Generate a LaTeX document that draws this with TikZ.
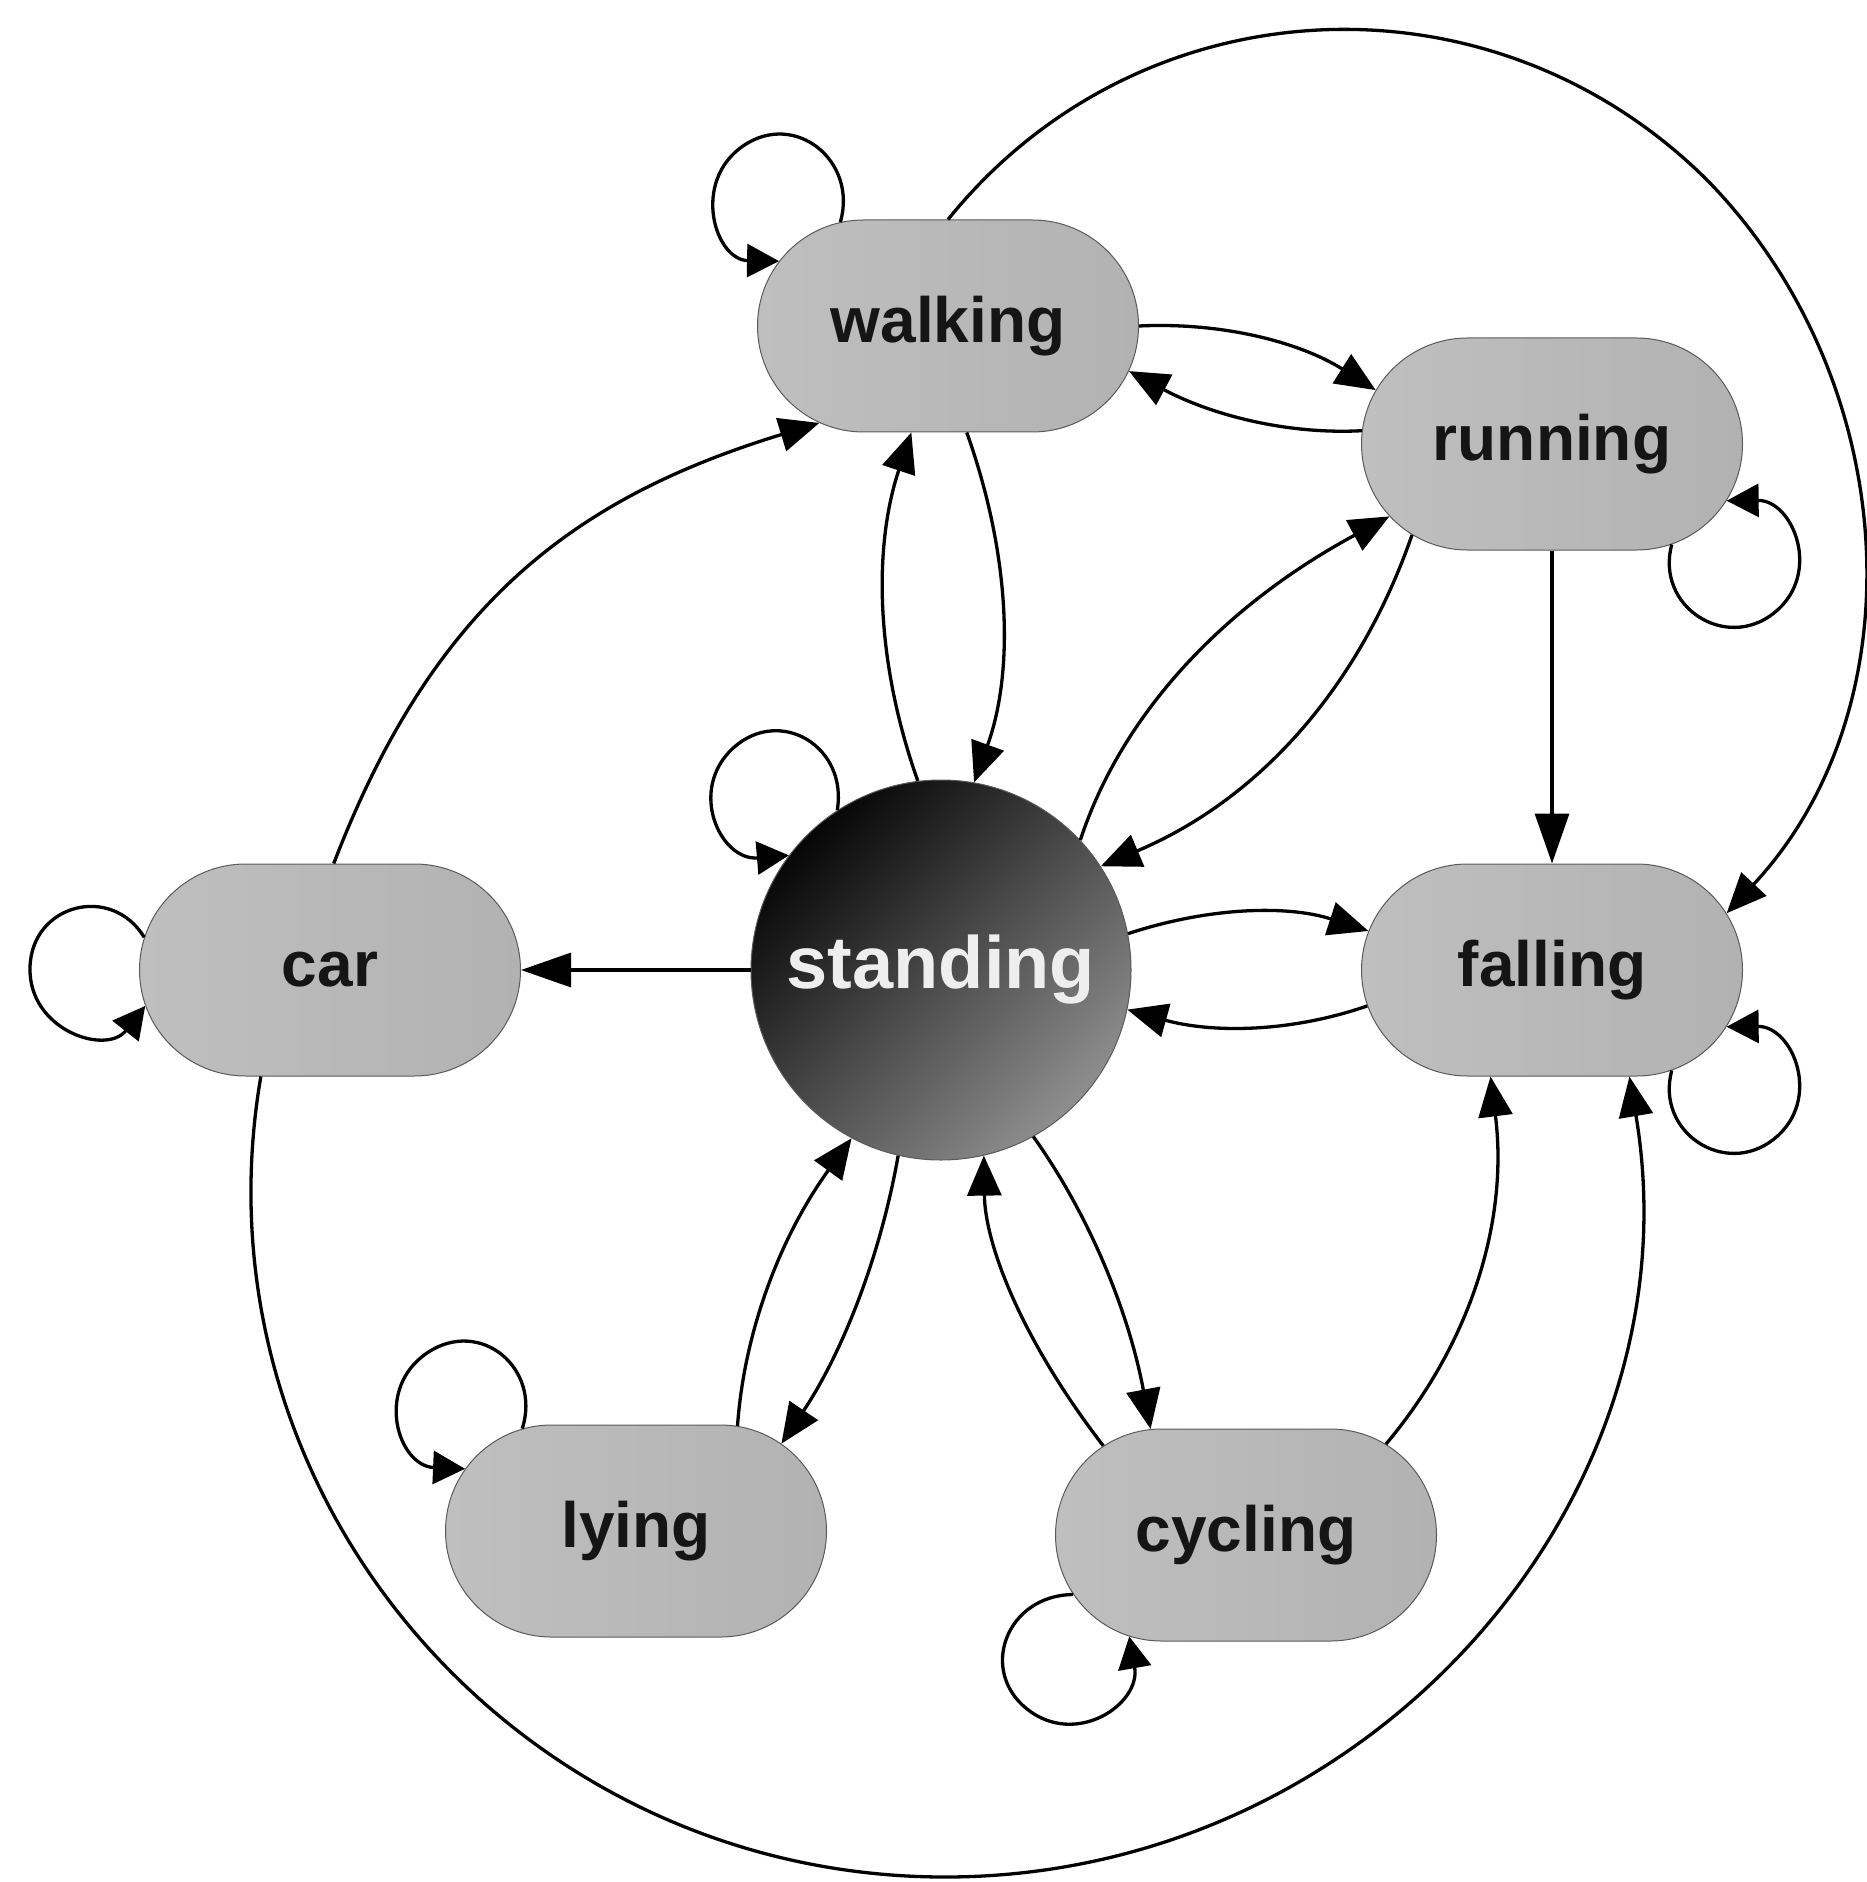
\documentclass[tikz,border=0pt]{standalone}
\usepackage{fontspec}
\setmainfont{Liberation Sans}
\usetikzlibrary{shapes.misc,arrows.meta}
\definecolor{boxL}{HTML}{BFBFBF}
\definecolor{boxR}{HTML}{B2B2B2}
\definecolor{boxline}{HTML}{5A5A5A}
\definecolor{txt}{HTML}{151515}
\definecolor{hubA}{HTML}{060606}
\definecolor{hubM}{HTML}{333333}
\definecolor{hubB}{HTML}{8E8E8E}
\definecolor{hubtxt}{HTML}{EEEEEE}
\begin{document}
\begin{tikzpicture}[x=0.5pt,y=-0.5pt,
  state/.style={rounded rectangle, minimum width=190.5pt, minimum height=106pt,
    inner sep=0pt, draw=boxline, line width=0.5pt, left color=boxL, right color=boxR,
    font=\fontsize{32}{36}\selectfont\bfseries, text=txt},
  hub/.style={circle, minimum size=190pt, inner sep=0pt, draw=boxline, line width=0.5pt,
    top color=hubA, middle color=hubM, bottom color=hubB, shading angle=45,
    font=\fontsize{37}{40}\selectfont\bfseries, text=hubtxt},
  conn/.style={line width=1.65pt, -{Triangle[length=20pt,width=17pt]}},
  loopconn/.style={line width=1.65pt, -{Triangle[length=16pt,width=16.5pt]}},
  straightconn/.style={line width=1.65pt, -{Triangle[length=25pt,width=17pt]}}
]
\useasboundingbox (0,0) rectangle (1866,1882);

\node[state] (W) at (948,326) {walking};
\node[state] (R) at (1552,444) {running};
\node[state] (F) at (1552,970) {falling};
\node[state] (C) at (330,970) {car};
\node[state] (L) at (636,1531) {lying};
\node[state] (Y) at (1246,1535) {cycling};
\node[hub] (S) at (941,970) {standing};

% self loops
\draw[loopconn] (W.136) .. controls (858,161) and (795,110) .. (743,146) .. controls (691,182) and (715,260) .. (W.159);
\draw[loopconn] (R.-40) .. controls (1655,606) and (1725,652) .. (1774,613) .. controls (1823,574) and (1793,500) .. (R.-18);
\draw[loopconn] (F.-40) .. controls (1655,1132) and (1725,1178) .. (1774,1139) .. controls (1823,1100) and (1793,1026) .. (F.-18);
\draw[loopconn] (C.170) .. controls (111.5,883.6) and (32,904) .. (30,967) .. controls (28,1030) and (106,1056) .. (C.-169.4);
\draw[loopconn] (S.123) .. controls (848,746.5) and (780,706) .. (733.5,747.7) .. controls (687,790) and (720.5,861) .. (S.143.8);
\draw[loopconn] (L.138.4) .. controls (541.5,1368) and (480,1317) .. (427,1353) .. controls (374,1389) and (398,1466) .. (L.160);
\draw[loopconn] (Y.199.4) .. controls (1007,1595) and (978,1670) .. (1027,1709) .. controls (1076,1748) and (1141,1704) .. (Y.221.8);

% walking / running
\draw[conn] (W.0) .. controls +(83,-4) and +(-76,-48) .. (R.163);
\draw[conn] (R.176.5) .. controls +(-74.7,4) and +(82.7,44) .. (W.-14.5);
% standing / walking
\draw[conn] (S.97.7) .. controls +(-41.7,-117.5) and +(-38.7,116) .. (W.-109.7);
\draw[conn] (W.-80.5) .. controls +(44,123.6) and +(40,-110.5) .. (S.80.5);
% car -> walking
\draw[conn] (C.88) .. controls +(100,-260) and +(-245,75) .. (W.-143);
% standing / running
\draw[conn] (S.43) .. controls +(41,-124.9) and +(-167.5,90.5) .. (R.204.6);
\draw[conn] (R.213.7) .. controls +(-52.9,152.4) and +(158.5,-66.8) .. (S.33.8);
% running -> falling
\draw[straightconn] (R.south) -- (F.north);
% walking -> falling (big arc)
\draw[conn] (W.north) .. controls +(192,-238) and (1492,-35) .. (1708,181) .. controls (1903,381.5) and (1919,707) .. (F.18);
% standing -> car
\draw[straightconn] (S.west) -- (C.east);
% standing / falling
\draw[conn] (S.11.4) .. controls +(81.2,-26.8) and +(-80.9,-26) .. (F.168);
\draw[conn] (F.191) .. controls +(-79.3,27.5) and +(82.7,23.1) .. (S.-12.9);
% cycling -> falling
\draw[conn] (Y.33.8) .. controls +(88.7,-106) and +(17.5,139.3) .. (F.-120.6);
% car -> falling (big bottom arc)
\draw[conn] (C.237) .. controls +(-72,420) and (519,1877) .. (945,1877) .. controls (1370,1877) and +(71,422) .. (F.-54.9);
% standing / lying
\draw[conn] (S.-103.7) .. controls +(-19.1,108) and +(57.3,-85.1) .. (L.31);
\draw[conn] (L.46.9) .. controls +(6.5,-93.7) and +(-71.5,98.7) .. (S.-118);
% standing / cycling
\draw[conn] (S.-61.6) .. controls +(58.4,82.1) and +(-21.1,-113.3) .. (Y.132.6);
\draw[conn] (Y.148) .. controls +(-79.8,-103.5) and +(1.2,90.7) .. (S.-77);
\end{tikzpicture}
\end{document}
